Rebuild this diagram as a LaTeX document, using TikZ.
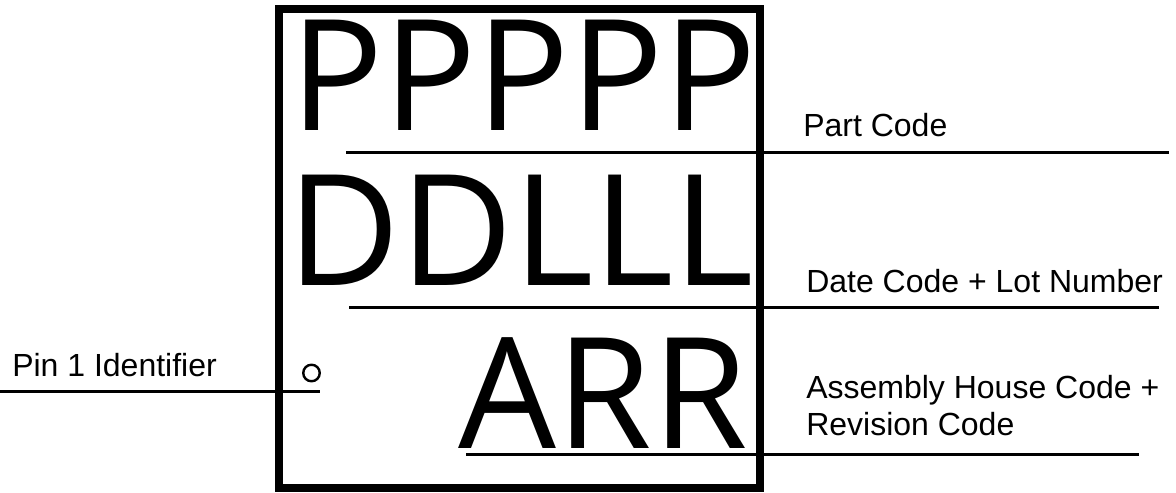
\documentclass[tikz,border=0pt]{standalone}
\usepackage{fontspec}
\setmainfont{Liberation Sans}
\newfontfamily\markfont{Open Sans}
\usepackage{tikz}
\usetikzlibrary{positioning}

\begin{document}
\begin{tikzpicture}[
            x=0.75pt, y=-0.75pt,
            rowtext/.style={inner sep=0, anchor=base, font=\markfont\fontsize{116}{116}\selectfont},
            labeltext/.style={inner sep=0, anchor=base west, align=left, font=\fontsize{24}{27.75}\selectfont},
            leader/.style={line width=2.25pt},
            body/.style={draw, line width=6pt}
        ]
        \useasboundingbox (0,0) rectangle (1176,492);

        % --- package outline ---
        \draw[body] (279,9) rectangle (759.5,488);

        % --- marking rows ---
        \node[rowtext] (prow) at (523.5,130.7) {PPPPP};
        \node[rowtext] (drow) at (521,285) {DDLLL};
        \node[rowtext] (arow) at (603.5,448) {ARR};
        \node[draw, circle, inner sep=0, minimum size=12.4pt, line width=1.8pt] (pin) at (311.5,373) {};

        % --- labels ---
        \node[labeltext] (plabel) at (803,136) {Part Code};
        \node[labeltext] (dlabel) at (806,292.7) {Date Code + Lot Number};
        \node[labeltext] (alabel) at (806,435) {Assembly House Code +\\Revision Code};
        \node[labeltext] (pinlabel) at (12,376) {Pin 1 Identifier};

        % --- leader lines ---
        \coordinate (pl) at (346,152);
        \coordinate (pr) at (1169,152);
        \coordinate (dl) at (349,307);
        \coordinate (dr) at (1159,307);
        \coordinate (al) at (466,454);
        \coordinate (ar) at (1139,454);
        \coordinate (il) at (0,391);
        \coordinate (ir) at (320,391);
        \draw[leader] (pl)--(pr);
        \draw[leader] (dl)--(dr);
        \draw[leader] (al)--(ar);
        \draw[leader] (il)--(ir);

        \end{tikzpicture}
\end{document}
